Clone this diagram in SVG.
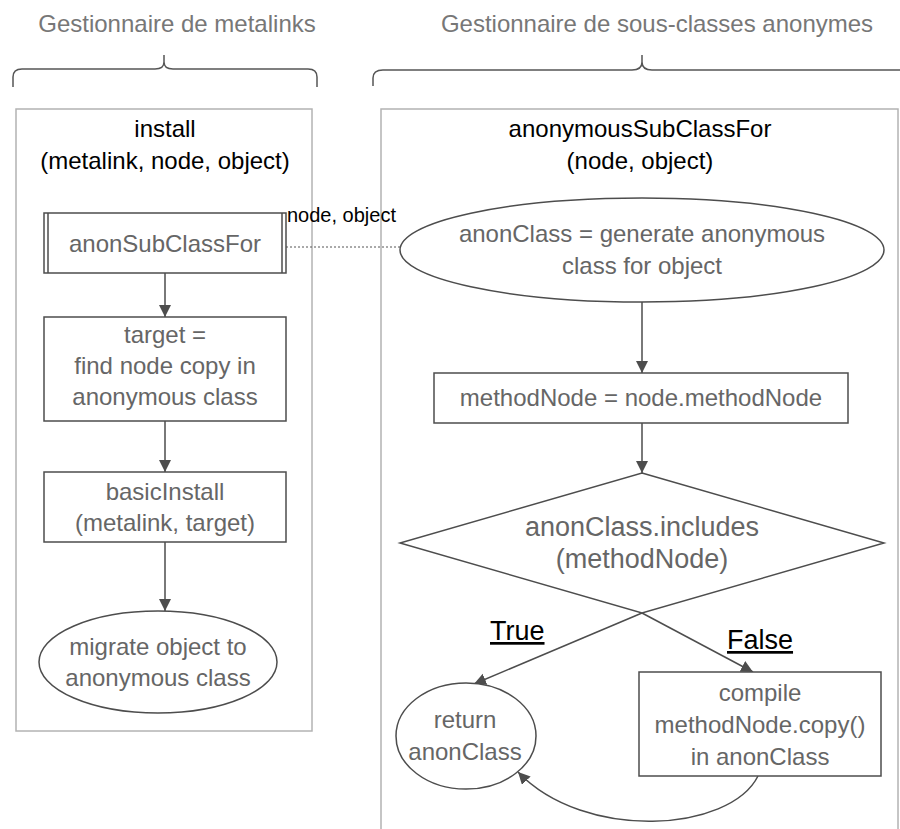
<svg xmlns="http://www.w3.org/2000/svg" width="900" height="829" viewBox="0 0 900 829">
<defs>
<marker id="arr" markerUnits="userSpaceOnUse" markerWidth="14" markerHeight="14" refX="12" refY="6" orient="auto">
<path d="M0,0 L12,6 L0,12 z" fill="#4d4d4d"/>
</marker>
<style>
text{font-family:"Liberation Sans",Arial,sans-serif;}
.hdr{font-size:24px;fill:#777;text-anchor:middle}
.title{font-size:24px;fill:#000;text-anchor:middle}
.txt{font-size:24px;fill:#666;text-anchor:middle}
.big{font-size:27px;fill:#666;text-anchor:middle}
.lbl{font-size:27px;fill:#000;text-decoration:underline}
.node{fill:#fff;stroke:#4d4d4d;stroke-width:1.5}
.cont{fill:#fff;stroke:#b3b3b3;stroke-width:1.5}
.brace{fill:none;stroke:#555;stroke-width:1.5}
.edge{fill:none;stroke:#4d4d4d;stroke-width:1.5;marker-end:url(#arr)}
</style>
</defs>
<rect width="900" height="829" fill="#fff"/>

<g id="header-left">
<text class="hdr" x="177" y="32">Gestionnaire de metalinks</text>
<path class="brace" d="M13,87 L13,77 Q13,69 22,69 L155,69 Q164,69 164,62 L164,55 M164,62 Q164,69 173,69 L308,69 Q317,69 317,77 L317,87"/>
</g>
<g id="header-right">
<text class="hdr" x="657" y="32">Gestionnaire de sous-classes anonymes</text>
<path class="brace" d="M373,86 L373,78 Q373,70 383,70 L632,70 Q642,70 642,62 L642,55 M642,62 Q642,70 652,70 L898,70 Q908,70 908,78 L908,86"/>
</g>

<g id="container-install">
<rect class="cont" x="16" y="109" width="296" height="622"/>
<text class="title" x="165" y="137">install</text>
<text class="title" x="165" y="169">(metalink, node, object)</text>
</g>
<g id="container-anon">
<rect class="cont" x="381" y="109" width="517" height="740"/>
<text class="title" x="640" y="137">anonymousSubClassFor</text>
<text class="title" x="640" y="169">(node, object)</text>
</g>

<g id="connectors">
<line x1="286" y1="247" x2="400" y2="247" stroke="#555" stroke-width="1" stroke-dasharray="2,2"/>
<text x="287" y="222" font-size="20" fill="#000">node, object</text>
<line class="edge" x1="165" y1="273" x2="165" y2="317"/>
<line class="edge" x1="165" y1="421" x2="165" y2="472"/>
<line class="edge" x1="165" y1="542" x2="165" y2="611"/>
<line class="edge" x1="642" y1="302" x2="642" y2="373"/>
<line class="edge" x1="642" y1="423" x2="642" y2="473"/>
<line class="edge" x1="642" y1="613" x2="474" y2="684"/>
<line class="edge" x1="642" y1="613" x2="753" y2="672"/>
<path class="edge" d="M758,776 C730,832 585,842 518,772"/>
<text class="lbl" x="490" y="640">True</text>
<text class="lbl" x="727" y="649">False</text>
</g>

<g id="anonSubClassFor">
<rect class="node" x="44" y="213" width="242" height="60"/>
<line x1="48" y1="213" x2="48" y2="273" stroke="#4d4d4d" stroke-width="1.5"/>
<line x1="282" y1="213" x2="282" y2="273" stroke="#4d4d4d" stroke-width="1.5"/>
<text class="txt" x="165" y="252">anonSubClassFor</text>
</g>
<g id="target">
<rect class="node" x="44" y="317" width="242" height="104"/>
<text class="txt" x="165" y="343">target =</text>
<text class="txt" x="165" y="374">find node copy in</text>
<text class="txt" x="165" y="405">anonymous class</text>
</g>
<g id="basicInstall">
<rect class="node" x="44" y="472" width="242" height="70"/>
<text class="txt" x="165" y="500">basicInstall</text>
<text class="txt" x="165" y="531">(metalink, target)</text>
</g>
<g id="migrate">
<ellipse class="node" cx="158" cy="662" rx="119" ry="51"/>
<text class="txt" x="158" y="655">migrate object to</text>
<text class="txt" x="158" y="686">anonymous class</text>
</g>

<g id="anonClass">
<ellipse class="node" cx="642" cy="250" rx="242" ry="52"/>
<text class="txt" x="642" y="242">anonClass = generate anonymous</text>
<text class="txt" x="642" y="274">class for object</text>
</g>
<g id="methodNode">
<rect class="node" x="434" y="373" width="414" height="50"/>
<text class="txt" x="641" y="406">methodNode = node.methodNode</text>
</g>
<g id="includes">
<polygon class="node" points="642,473 884,543 642,613 400,543"/>
<text class="big" x="642" y="536">anonClass.includes</text>
<text class="big" x="642" y="568">(methodNode)</text>
</g>
<g id="return">
<ellipse class="node" cx="466" cy="736" rx="70" ry="53"/>
<text class="txt" x="465" y="728">return</text>
<text class="txt" x="465" y="760">anonClass</text>
</g>
<g id="compile">
<rect class="node" x="639" y="672" width="242" height="104"/>
<text class="txt" x="760" y="701">compile</text>
<text class="txt" x="760" y="733">methodNode.copy()</text>
<text class="txt" x="760" y="765">in anonClass</text>
</g>
</svg>
